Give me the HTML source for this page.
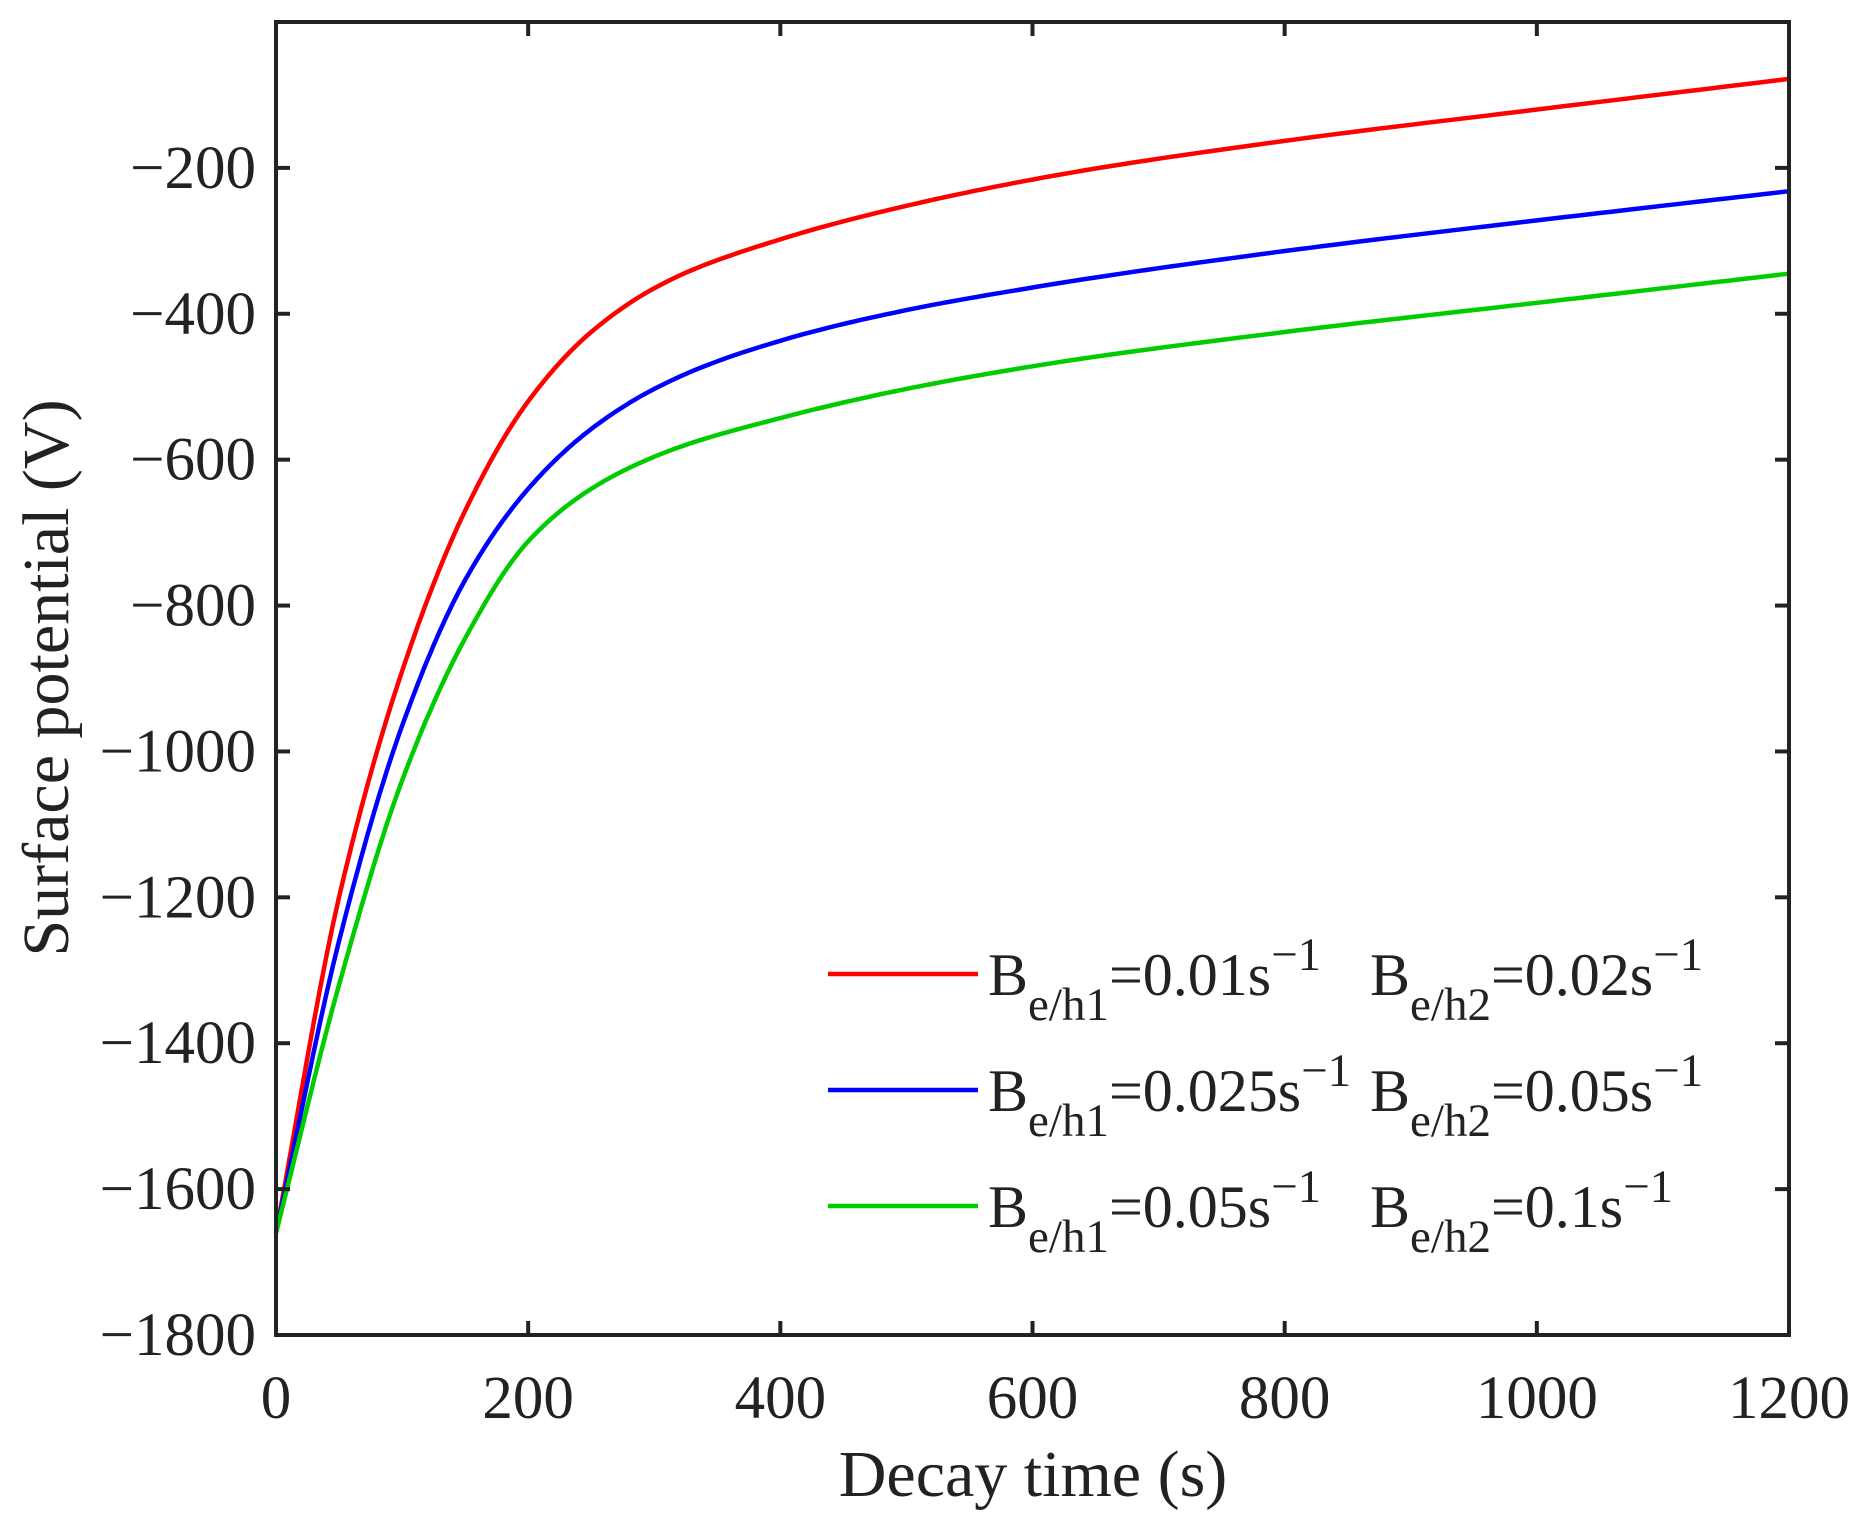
<!DOCTYPE html>
<html><head><meta charset="utf-8"><style>
html,body{margin:0;padding:0;background:#fff}
svg text{font-family:"Liberation Serif",serif;fill:#222}
</style></head><body>
<svg id="s" width="1873" height="1523" viewBox="0 0 1873 1523" xmlns="http://www.w3.org/2000/svg">
<g id="curves" fill="none" stroke-width="4.5" stroke-linejoin="round"></g>
<rect x="276" y="22" width="1513" height="1313" fill="none" stroke="#222" stroke-width="4"/>
<g id="ticks" stroke="#222" stroke-width="4"></g>
<g id="labels" font-size="61"></g>
<text x="1033" y="1496" font-size="66" text-anchor="middle">Decay time (s)</text>
<text transform="translate(68,678) rotate(-90)" font-size="66" text-anchor="middle">Surface potential (V)</text>
<g font-size="60">
<line x1="828" y1="974" x2="978" y2="974" stroke="#f00" stroke-width="4.5"/>
<line x1="828" y1="1090" x2="978" y2="1090" stroke="#00f" stroke-width="4.5"/>
<line x1="828" y1="1206" x2="978" y2="1206" stroke="#0c0" stroke-width="4.5"/>
<text x="988" y="995">B<tspan dy="25" font-size="47">e/h1</tspan><tspan dy="-25">=0.01s</tspan><tspan dy="-25" font-size="47">−1</tspan></text>
<text x="1370" y="995">B<tspan dy="25" font-size="47">e/h2</tspan><tspan dy="-25">=0.02s</tspan><tspan dy="-25" font-size="47">−1</tspan></text>
<text x="988" y="1111">B<tspan dy="25" font-size="47">e/h1</tspan><tspan dy="-25">=0.025s</tspan><tspan dy="-25" font-size="47">−1</tspan></text>
<text x="1370" y="1111">B<tspan dy="25" font-size="47">e/h2</tspan><tspan dy="-25">=0.05s</tspan><tspan dy="-25" font-size="47">−1</tspan></text>
<text x="988" y="1227">B<tspan dy="25" font-size="47">e/h1</tspan><tspan dy="-25">=0.05s</tspan><tspan dy="-25" font-size="47">−1</tspan></text>
<text x="1370" y="1227">B<tspan dy="25" font-size="47">e/h2</tspan><tspan dy="-25">=0.1s</tspan><tspan dy="-25" font-size="47">−1</tspan></text>
</g>
</svg>
<script>
var L=276,R=1789,T=22,B=1335;
function X(t){return L+(R-L)*t/1200}
function Y(v){return T+(B-T)*(-v)/1800}
var NS="http://www.w3.org/2000/svg";
function el(p,n,a,txt){var e=document.createElementNS(NS,n);for(var k in a)e.setAttribute(k,a[k]);if(txt!=null)e.textContent=txt;p.appendChild(e);return e}
var tk=document.getElementById('ticks'),lb=document.getElementById('labels');
for(var t=0;t<=1200;t+=200){var x=X(t);
 el(tk,'line',{x1:x,y1:B,x2:x,y2:B-14});el(tk,'line',{x1:x,y1:T,x2:x,y2:T+14});
 el(lb,'text',{x:x,y:1418,'text-anchor':'middle'},String(t));}
for(var v=-1800;v<=-200;v+=200){var y=Y(v);
 el(tk,'line',{x1:L,y1:y,x2:L+14,y2:y});el(tk,'line',{x1:R,y1:y,x2:R-14,y2:y});
 el(lb,'text',{x:256,y:y+20,'text-anchor':'end'},'−'+(-v));}
var data=[
['#f00',[[0,-1660],[50,-1200],[100,-890],[150,-670],[200,-520],[250,-425],[300,-365],[400,-298],[500,-252],[600,-216],[800,-163],[1000,-120],[1200,-78]]],
['#00f',[[0,-1660],[50,-1260],[100,-965],[150,-765],[200,-640],[250,-558],[300,-503],[400,-437],[500,-395],[600,-364],[800,-314],[1000,-272],[1200,-232]]],
['#0c0',[[0,-1660],[50,-1320],[100,-1040],[150,-845],[200,-712],[250,-640],[300,-596],[400,-543],[500,-503],[600,-472],[800,-425],[1000,-385],[1200,-345]]]];
function mono(pts){var n=pts.length,xs=pts.map(p=>p[0]),ys=pts.map(p=>p[1]),d=[],m=[];
 for(var i=0;i<n-1;i++)d.push((ys[i+1]-ys[i])/(xs[i+1]-xs[i]));
 m[0]=d[0];m[n-1]=d[n-2];
 for(i=1;i<n-1;i++){m[i]=d[i-1]*d[i]<=0?0:(xs[i+1]-xs[i-1])/((xs[i+1]-xs[i])/d[i-1]+(xs[i]-xs[i-1])/d[i]);}
 var out=[];
 for(i=0;i<n-1;i++){var h=xs[i+1]-xs[i];for(var k=0;k<20;k++){var s=k/20,h00=2*s*s*s-3*s*s+1,h10=s*s*s-2*s*s+s,h01=-2*s*s*s+3*s*s,h11=s*s*s-s*s;
  out.push([xs[i]+s*h,h00*ys[i]+h10*h*m[i]+h01*ys[i+1]+h11*h*m[i+1]]);}}
 out.push(pts[n-1]);return out;}
var g=document.getElementById('curves');
data.forEach(function(d){var p=mono(d[1]);
 var s=p.map(function(q,i){return (i?'L':'M')+X(q[0]).toFixed(1)+','+Y(q[1]).toFixed(1)}).join(' ');
 el(g,'path',{d:s,stroke:d[0]});});
</script>
</body></html>
